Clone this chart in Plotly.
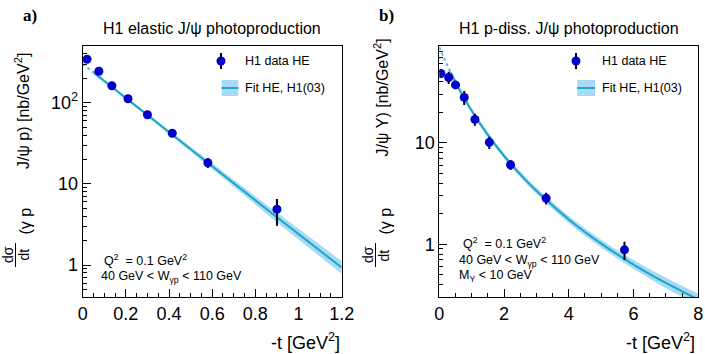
import plotly.graph_objects as go

# ---------------- data: panel a (elastic) ----------------
ta = [0.02, 0.075, 0.135, 0.21, 0.30, 0.415, 0.58, 0.90]
ya = [343, 244, 162, 112, 71, 42, 18.2, 4.86]
ea_hi = [12, 9, 6, 4, 3, 2, 2.6, 1.64]
ea_lo = [12, 9, 6, 4, 3, 2, 2.5, 1.81]

fit_a_t = [0.05, 0.3, 0.6, 0.9, 1.2]
fit_a_y = [236, 70.4, 16.5, 3.87, 0.93]
fit_a_hi = [247, 73.7, 17.9, 4.44, 1.12]
fit_a_lo = [225, 67.2, 15.2, 3.37, 0.78]
ext_a_t = [0.0, 0.05]
ext_a_y = [300, 236]

# ---------------- data: panel b (p-diss.) ----------------
tb = [0.05, 0.29, 0.50, 0.77, 1.10, 1.545, 2.20, 3.30, 5.72]
yb = [48.2, 44.0, 37.2, 28.0, 17.0, 10.1, 6.08, 2.84, 0.88]
eb = [4.5, 6.0, 3.0, 4.4, 2.3, 1.4, 0.7, 0.37, 0.18]

fit_b_t = [0.35, 0.6, 1.0, 1.5, 2.0, 2.5, 3.0, 4.0, 5.0, 6.0, 7.0, 8.0]
fit_b_y = [49.4, 34.5, 20.7, 11.96, 7.43, 4.89, 3.36, 1.756, 1.015, 0.631, 0.415, 0.285]
fit_b_hi = [52.5, 36.7, 22.0, 12.7, 7.90, 5.22, 3.60, 1.90, 1.11, 0.700, 0.467, 0.325]
fit_b_lo = [46.5, 32.5, 19.5, 11.26, 6.99, 4.58, 3.14, 1.62, 0.928, 0.569, 0.369, 0.250]
ext_b_t = [0.0, 0.15, 0.35]
ext_b_y = [87.7, 67.8, 49.4]

xa_ticks = [0, 0.2, 0.4, 0.6, 0.8, 1.0, 1.2]
xa_labels = ["0", "0.2", "0.4", "0.6", "0.8", "1", "1.2"]
xb_ticks = [0, 2, 4, 6, 8]
xb_labels = ["0", "2", "4", "6", "8"]
ya_ticks = [1, 10, 100]
ya_labels = ["1", "10", "10<sup>2</sup>"]
yb_ticks = [1, 10]
yb_labels = ["1", "10"]

FONT = "Liberation Sans, Arial, Helvetica, sans-serif"
LINE_C = "rgb(24,168,198)"
BAND_C = "rgb(168,218,246)"
MARK_C = "rgb(0,0,205)"

W, H = 705, 354
def px(x):
    return x / W
def py(y):
    return 1 - y / H

fig = go.Figure()

def add_panel(xr, yr, t_fit, y_fit, y_hi, y_lo, t_ext, y_ext, t, y, ehi, elo):
    fig.add_trace(go.Scatter(x=t_fit, y=y_hi, mode="lines", line=dict(width=0, shape="spline"),
                             xaxis=xr, yaxis=yr, showlegend=False, hoverinfo="skip"))
    fig.add_trace(go.Scatter(x=t_fit, y=y_lo, mode="lines", line=dict(width=0, shape="spline"),
                             fill="tonexty", fillcolor=BAND_C,
                             xaxis=xr, yaxis=yr, showlegend=False, hoverinfo="skip"))
    fig.add_trace(go.Scatter(x=t_ext, y=y_ext, mode="lines",
                             line=dict(color="rgb(90,190,215)", width=2, dash="dot", shape="spline"),
                             xaxis=xr, yaxis=yr, showlegend=False))
    fig.add_trace(go.Scatter(x=t_fit, y=y_fit, mode="lines",
                             line=dict(color=LINE_C, width=2, shape="spline"),
                             xaxis=xr, yaxis=yr, showlegend=False))
    fig.add_trace(go.Scatter(x=t, y=y, mode="markers",
                             marker=dict(color=MARK_C, size=9),
                             error_y=dict(type="data", array=ehi, arrayminus=elo, color="black",
                                          thickness=2, width=0),
                             xaxis=xr, yaxis=yr, showlegend=False))

add_panel("x", "y", fit_a_t, fit_a_y, fit_a_hi, fit_a_lo, ext_a_t, ext_a_y, ta, ya, ea_hi, ea_lo)
add_panel("x2", "y2", fit_b_t, fit_b_y, fit_b_hi, fit_b_lo, ext_b_t, ext_b_y, tb, yb, eb, eb)

def minor_log(lo_dec, hi_dec):
    vals = []
    for d in range(lo_dec, hi_dec + 1):
        for m in range(2, 10):
            vals.append(m * 10 ** d)
    return vals

ydom = [py(297.3), py(46)]
axis_common = dict(showline=True, mirror=True, linecolor="black", linewidth=1,
                   ticks="inside", ticklen=8, tickwidth=1, tickcolor="black",
                   showgrid=False, zeroline=False, automargin=False,
                   tickfont=dict(family=FONT, size=18, color="black"))

fig.update_layout(
    width=W, height=H, autosize=False,
    margin=dict(l=0, r=0, t=0, b=0, pad=0),
    paper_bgcolor="white", plot_bgcolor="white",
    showlegend=False,
    xaxis=dict(domain=[px(82.7), px(341.7)], range=[0, 1.2], anchor="y",
               tickmode="array", tickvals=xa_ticks, ticktext=xa_labels,
               minor=dict(dtick=0.05, ticks="inside", ticklen=4, tickcolor="black"),
               **axis_common),
    yaxis=dict(domain=ydom, type="log", range=[-0.398, 2.699], anchor="x",
               tickmode="array", tickvals=ya_ticks, ticktext=ya_labels,
               minor=dict(tickmode="array", tickvals=minor_log(-1, 2), ticks="inside",
                          ticklen=4, tickcolor="black"),
               **axis_common),
    xaxis2=dict(domain=[px(439.3), px(698.3)], range=[0, 8], anchor="y2",
                tickmode="array", tickvals=xb_ticks, ticktext=xb_labels,
                minor=dict(dtick=0.5, ticks="inside", ticklen=4, tickcolor="black"),
                **axis_common),
    yaxis2=dict(domain=ydom, type="log", range=[-0.523, 1.954], anchor="x2",
                tickmode="array", tickvals=yb_ticks, ticktext=yb_labels,
                minor=dict(tickmode="array", tickvals=minor_log(-1, 1), ticks="inside",
                           ticklen=4, tickcolor="black"),
                **axis_common),
)

ann = []
shapes = []

def text(x, y, s, size, xanchor="left", angle=0, bold=False, family=FONT):
    ann.append(dict(x=px(x), y=py(y), xref="paper", yref="paper", text=s, showarrow=False,
                    xanchor=xanchor, yanchor="middle", textangle=angle,
                    font=dict(family=family, size=size, color="black")))

# panel labels and titles
text(30, 15, "<b>a)</b>", 17, "center", family="Liberation Serif, Times New Roman, serif")
text(386, 15, "<b>b)</b>", 17, "center", family="Liberation Serif, Times New Roman, serif")
text(212, 28, "H1 elastic J/ψ photoproduction", 16, "center")
text(569, 28, "H1 p-diss. J/ψ photoproduction", 16, "center")

# x-axis titles
text(342, 341, "-t [GeV<sup>2</sup>]", 18, "right")
text(697, 341, "-t [GeV<sup>2</sup>]", 18, "right")

# y-axis titles
for dx, main, yc in [(0, "J/ψ p) [nb/GeV<sup>2</sup>]", 111), (360, "J/ψ Y) [nb/GeV<sup>2</sup>]", 97.5)]:
    text(dx + 22, yc, main, 16, "center", angle=-90)
    text(dx + 25, 221.5, "(γ p", 16, "center", angle=-90)
    text(dx + 8, 255, "dσ", 14, "center", angle=-90)
    text(dx + 23.5, 255, "dt", 14, "center", angle=-90)
    shapes.append(dict(type="line", xref="paper", yref="paper",
                       x0=px(dx + 15.5), x1=px(dx + 15.5), y0=py(243), y1=py(267),
                       line=dict(color="black", width=1)))

# legends
for mx, bx0, bx1, tx in [(221, 221.7, 238.3, 243), (576, 577.3, 595, 600)]:
    shapes.append(dict(type="line", xref="paper", yref="paper", x0=px(mx), x1=px(mx),
                       y0=py(53), y1=py(69), line=dict(color="black", width=2)))
    shapes.append(dict(type="circle", xref="paper", yref="paper",
                       x0=px(mx - 4.5), x1=px(mx + 4.5), y0=py(65.5), y1=py(56.5),
                       fillcolor=MARK_C, line=dict(color=MARK_C, width=0)))
    shapes.append(dict(type="rect", xref="paper", yref="paper", x0=px(bx0), x1=px(bx1),
                       y0=py(96), y1=py(80), fillcolor=BAND_C, line=dict(width=0)))
    shapes.append(dict(type="line", xref="paper", yref="paper", x0=px(bx0), x1=px(bx1),
                       y0=py(88), y1=py(88), line=dict(color=LINE_C, width=2)))
    text(tx, 61, "H1 data HE", 12.5)
    text(tx, 88, "Fit HE, H1(03)", 12.5)

# kinematic labels
nb = "\u00a0"
text(101.7, 260, "Q<sup>2</sup>" + nb * 2 + "= 0.1 GeV<sup>2</sup>", 12.5)
text(99.3, 277.3, "40 GeV &lt; W<sub>γp</sub> &lt; 110 GeV", 12.5)
text(461, 243, "Q<sup>2</sup>" + nb * 2 + "= 0.1 GeV<sup>2</sup>", 12.5)
text(456.7, 260.5, "40 GeV &lt; W<sub>γp</sub> &lt; 110 GeV", 12.5)
text(456.7, 276, "M<sub>Y</sub> &lt; 10 GeV", 12.5)

fig.update_layout(annotations=ann, shapes=shapes)
fig.write_html("out.html",
               config={"displayModeBar": False, "responsive": False},
               post_script="document.body.style.margin='0';document.body.style.overflow='hidden';")
